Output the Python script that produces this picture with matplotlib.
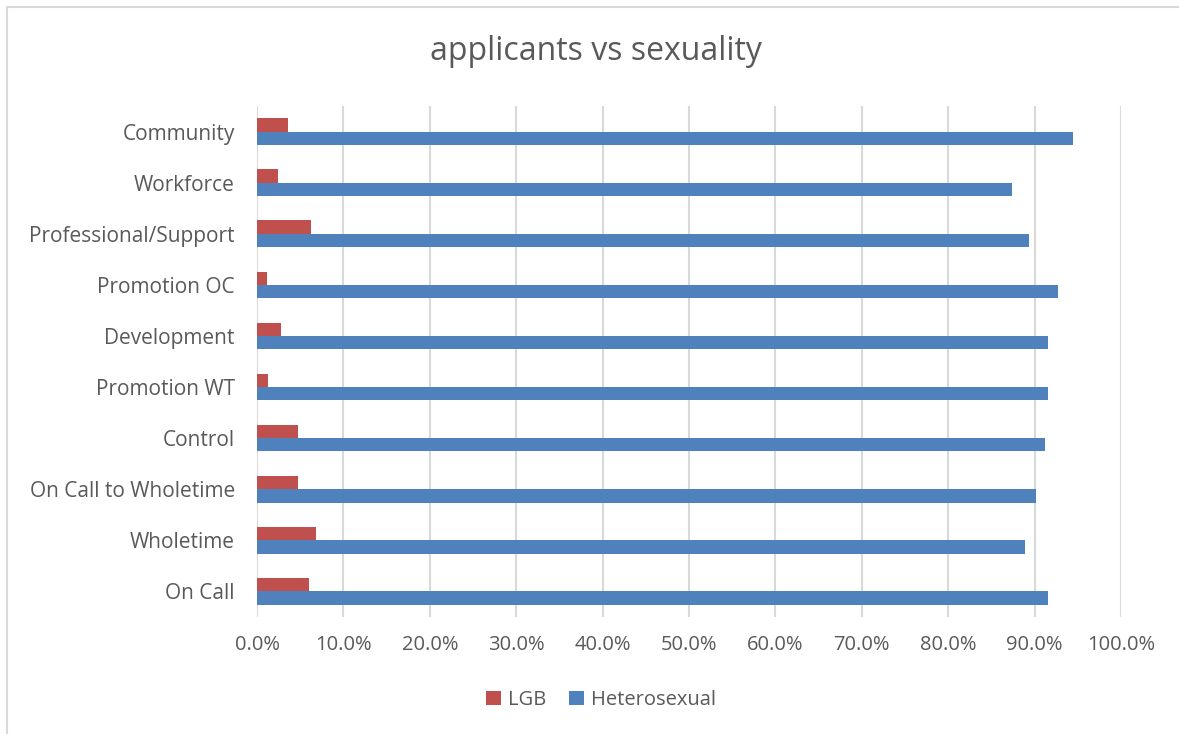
import matplotlib
matplotlib.use("Agg")
import matplotlib.pyplot as plt
from matplotlib.patches import Rectangle
from matplotlib.ticker import FuncFormatter, MultipleLocator
import numpy as np

categories = ["On Call", "Wholetime", "On Call to Wholetime", "Control", "Promotion WT",
              "Development", "Promotion OC", "Professional/Support", "Workforce", "Community"]
lgb = [6.0, 6.8, 4.8, 4.8, 1.3, 2.8, 1.2, 6.2, 2.4, 3.6]
hetero = [91.5, 88.9, 90.2, 91.2, 91.6, 91.5, 92.7, 89.4, 87.4, 94.4]
series_names = ["LGB", "Heterosexual"]
colors = ["#C0504D", "#4F81BD"]

plt.rcParams['font.family'] = ['Open Sans', 'DejaVu Sans']
text_color = "#595959"

fig = plt.figure(figsize=(11.79, 7.34), dpi=100)
ax = fig.add_axes([257/1179, (734-617)/734, (1121-257)/1179, (617-106)/734])

y = np.arange(len(categories))
h = 0.26
ax.barh(y + h/2, lgb, height=h, color=colors[0], label=series_names[0], zorder=3)
ax.barh(y - h/2, hetero, height=h, color=colors[1], label=series_names[1], zorder=3)

ax.set_xlim(0, 100)
ax.set_ylim(-0.5, len(categories) - 0.5)
ax.xaxis.set_major_locator(MultipleLocator(10))
ax.xaxis.set_major_formatter(FuncFormatter(lambda v, p: f"{v:.1f}%"))
ax.set_yticks(y)
ax.set_yticklabels(categories)
ax.tick_params(axis='y', length=0, labelsize=15, labelcolor=text_color, pad=16)
ax.tick_params(axis='x', length=0, labelsize=14.5, labelcolor=text_color, pad=13)
ax.grid(axis='x', color="#D9D9D9", linewidth=1.5, zorder=0)
for s in ax.spines.values():
    s.set_visible(False)

fig.text(596/1179, 1 - 51/734, "applicants vs sexuality", ha='center', va='center',
         fontsize=23, color=text_color)

handles, labels = ax.get_legend_handles_labels()
leg = fig.legend(handles, labels, loc='center', bbox_to_anchor=(601/1179, 1 - 700/734),
                 ncol=2, frameon=False, fontsize=14.5, handlelength=0.75, handleheight=0.75,
                 handletextpad=0.35, columnspacing=1.1)
for t in leg.get_texts():
    t.set_color(text_color)

fig.patches.append(Rectangle((7/1179, -0.1), 1.2, 1 - 7/734 + 0.1, transform=fig.transFigure,
                             fill=False, edgecolor="#D9D9D9", linewidth=1.5))

fig.savefig("out.png", dpi=100)
